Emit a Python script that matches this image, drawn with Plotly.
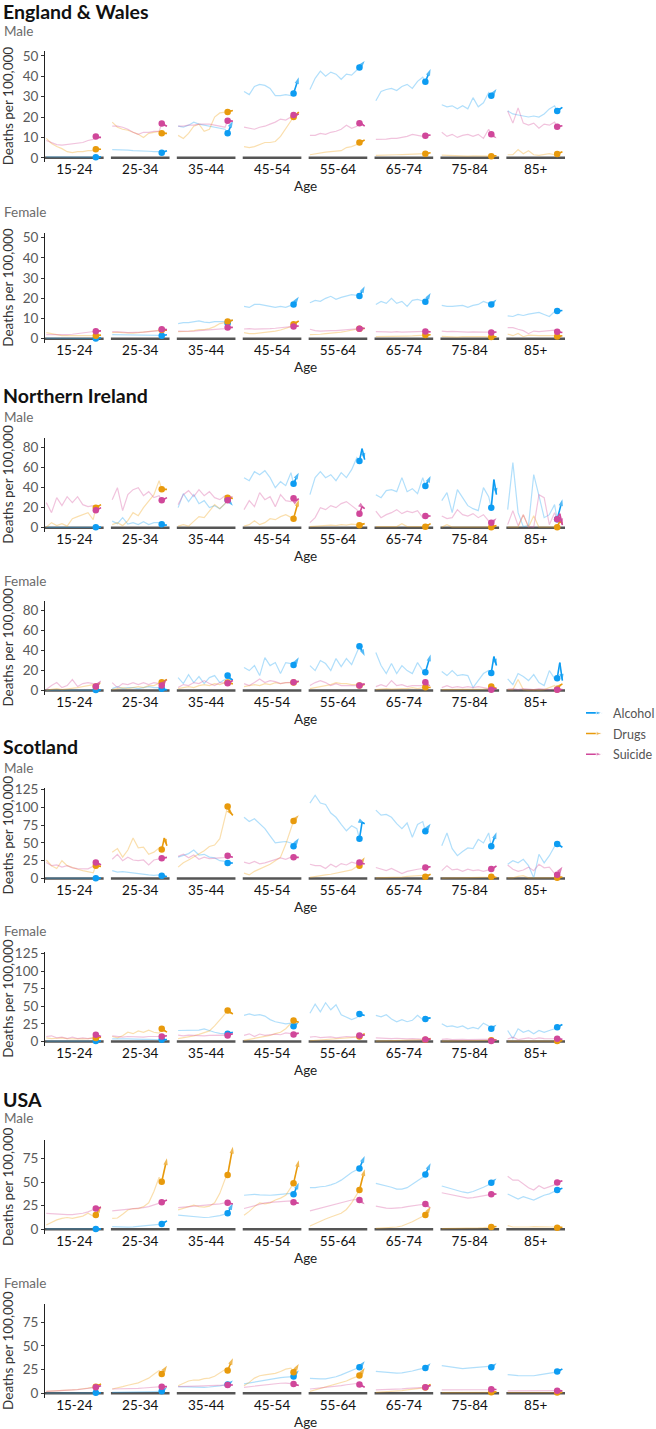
import plotly.graph_objects as go

AGES = ["15-24", "25-34", "35-44", "45-54", "55-64", "65-74", "75-84", "85+"]
YEARS = [2000, 2002, 2004, 2006, 2008, 2010, 2012, 2014, 2016, 2018, 2019, 2020, 2021]
CAUSES = ["Alcohol", "Drugs", "Suicide"]

# ---------------- England & Wales ----------------
EW_M_ALCOHOL = [
    [0.5, 0.5, 0.5, 0.5, 0.5, 0.5, 0.5, 0.5, 0.5, 0.5, 0.3, 0.4, 0.5],
    [4, 4, 4, 3.8, 3.5, 3.5, 3.5, 3.2, 3, 3, 2.5, 3, 3.5],
    [15.5, 15, 16, 17.5, 16.5, 16, 15.5, 15, 14.5, 14, 12, 15.5, 18],
    [32.5, 31, 35, 36, 35.5, 34, 30.5, 30.5, 31, 30.5, 31.5, 35.5, 39.5],
    [33.5, 39, 42.5, 40, 42, 41, 38.5, 41, 40.5, 43, 44.3, 46, 47.5],
    [28, 32.5, 33.5, 34, 33, 35, 36, 34, 37.5, 39.5, 37.3, 40.5, 43.5],
    [26, 25, 25.5, 24, 25.5, 24, 29.5, 25, 27, 32, 30.4, 32, 33.7],
    [23, 21.5, 21, 20.5, 20, 20.5, 20, 21.5, 24, 25.5, 23, 24, 24.7],
]
EW_M_DRUGS = [
    [9.5, 7, 5.5, 4.5, 3, 2.5, 3, 3, 3.5, 3.5, 4.2, 4.3, 4.2],
    [17.5, 15, 14, 13.5, 12.5, 11.5, 10, 12, 12.5, 13, 12, 12, 12],
    [11, 9.5, 12, 15.5, 16.5, 13, 14, 20, 22, 22.5, 22.5, 23, 23.2],
    [5.5, 5, 5.5, 6.5, 7.5, 7.5, 8, 10.5, 14.5, 18.5, 20, 21, 22.5],
    [1.5, 2, 2.5, 2.8, 3, 3.3, 3.5, 5, 5.5, 6.5, 7.5, 8, 8.7],
    [1.2, 1.2, 1.3, 1.5, 1.5, 1.6, 1.7, 1.8, 2, 2, 2, 2.3, 2.5],
    [1.3, 1.2, 1, 1, 0.8, 0.8, 1, 1, 0.9, 0.8, 0.8, 0.9, 1],
    [1.5, 1.5, 4, 2, 3.5, 1.5, 1.2, 1.5, 2, 1.5, 1.8, 2.5, 3],
]
EW_M_SUICIDE = [
    [8.5, 7.5, 6.5, 6.2, 6.5, 7, 7, 7.5, 8.5, 9, 10.5, 10, 10],
    [15.5, 15.5, 15, 14, 12.5, 11.5, 12.5, 12.5, 13, 13, 16.8, 16, 15.5],
    [15.5, 15.5, 16, 16, 16.5, 16.5, 16.5, 16, 15.5, 15, 18.2, 18, 18],
    [15, 14.5, 14, 15, 15.5, 16.5, 17.5, 19, 18.5, 20, 21, 21, 21.5],
    [11, 11, 12, 11.5, 12.5, 13, 14, 16, 14.5, 15.5, 17, 16.5, 15.5],
    [9, 9, 9.2, 9.5, 9.5, 10, 10.5, 11.5, 11, 10.5, 10.8, 11, 11.2],
    [12.5, 10.5, 11.5, 10, 11, 11.5, 10.5, 11.5, 9.5, 14, 11.6, 10.5, 9.6],
    [23, 17, 24.5, 17, 16, 17, 14.5, 16.5, 16, 17.5, 15.2, 15.5, 15.7],
]
EW_F_ALCOHOL = [
    [0.3, 0.3, 0.3, 0.3, 0.3, 0.3, 0.3, 0.3, 0.3, 0.3, 0.1, 0.3, 0.5],
    [2, 2, 2, 2, 2, 1.8, 1.8, 1.8, 1.7, 1.7, 1.5, 1.8, 2],
    [7.5, 8, 8, 8.5, 8.8, 8.2, 8, 8.5, 8.5, 8.5, 7.7, 8.5, 9.5],
    [16, 15.5, 17, 17, 16.5, 16, 15.5, 16, 15.5, 16.5, 17, 19, 20.8],
    [17.8, 19, 18.5, 20, 21, 19.5, 20.5, 21, 21.8, 21.5, 21.1, 23.5, 26],
    [17, 18.5, 17.5, 20, 17.5, 18.5, 16, 19, 19.5, 18.5, 18.3, 20.5, 22.7],
    [16.5, 16, 16, 16.3, 16.5, 15.5, 16.5, 17, 18.5, 17.5, 17, 18.2, 19.4],
    [11.3, 11, 12, 11.5, 12.2, 12.5, 13, 12, 11, 13.5, 13.7, 13.8, 14],
]
EW_F_DRUGS = [
    [3, 2.5, 2, 1.5, 1.5, 1.5, 1.5, 1.5, 1.5, 1.5, 1.5, 1.7, 1.8],
    [3, 3.2, 3, 2.8, 2.8, 3, 3.3, 3.5, 3.8, 4, 4.3, 4.3, 4.2],
    [3.5, 3.5, 3.7, 4, 4.5, 4.5, 5, 6, 7.5, 8, 8.5, 9, 9.2],
    [3, 2.5, 2.5, 2.8, 3, 3.3, 3.8, 4.3, 5, 6, 7.2, 8, 8.8],
    [2, 2, 2.2, 2.5, 2.7, 3, 3.3, 3.7, 4.2, 4.7, 5, 5, 5.1],
    [1, 1, 1.1, 1, 1.2, 1.2, 1.3, 1.4, 1.5, 1.6, 1.8, 1.9, 2],
    [1.2, 1, 1, 0.8, 1, 0.9, 1, 1, 1, 1, 0.9, 1, 1],
    [2.3, 1.5, 2.6, 1, 1.8, 1.5, 1.5, 1.5, 1.5, 1.5, 1.1, 1.3, 1.5],
]
EW_F_SUICIDE = [
    [2, 2, 2, 1.8, 2, 2.2, 2.5, 2.8, 3, 3.3, 3.7, 3.8, 3.9],
    [3.5, 3.5, 3.3, 3, 3, 3, 3.3, 3.5, 3.8, 4, 4.7, 4.6, 4.5],
    [3.8, 3.8, 3.6, 3.7, 4, 4.2, 4.3, 4.5, 4.8, 5, 5.5, 5.6, 5.6],
    [4.8, 5, 4.8, 4.8, 5, 5, 5.2, 5.5, 5.8, 6, 6.1, 6.2, 6.3],
    [4.7, 4, 3.8, 4, 4, 4, 4.2, 4.5, 4.8, 5, 5, 5.1, 5.2],
    [3.5, 3.3, 3.4, 3.3, 3.5, 3.3, 3.4, 3.3, 3.5, 3.4, 3.6, 3.5, 3.4],
    [3.8, 3.5, 3.6, 3.4, 3.5, 3.3, 3.4, 3.5, 3.3, 3.3, 3.1, 3.2, 3.3],
    [5.5, 5.5, 4.7, 4, 2.5, 3.8, 3.5, 3.8, 4, 4.2, 3.4, 3.2, 3.1],
]

# ---------------- Northern Ireland ----------------
NI_M_ALCOHOL = [
    [0.3, 0.3, 0.3, 0.3, 0.3, 0.3, 0.3, 0.3, 0.3, 0.3, 0.3, 0.4, 0.5],
    [6.5, 4, 10, 3.5, 5, 3, 6, 3, 5, 5, 3.3, 2.5, 2.7],
    [20, 34, 26, 33, 24, 27, 20, 22, 19, 24, 28, 25, 22],
    [50, 47, 56, 53, 57, 50, 40, 46, 42, 55, 44, 50, 55],
    [33, 50, 56, 50, 53, 47, 55, 50, 58, 70, 66.7, 79, 68],
    [33, 30, 37, 38, 36, 50, 36, 39, 34, 50, 41.7, 46, 51.7],
    [27, 35, 15, 38, 30, 22, 19, 17, 40, 31, 20, 48, 33],
    [18, 65, 15, 1, 2, 53, 32, 10, 13, 23, 8.3, 18, 28.3],
]
NI_M_DRUGS = [
    [0.5, 5, 2, 4, 1.5, 9, 11, 13, 15, 8, 20, 21.5, 23],
    [3, 5, 2, 7, 15, 12, 20, 27, 33, 47, 38.3, 38, 38.3],
    [1.5, 3, 1.5, 6, 11, 10, 17, 23, 19, 24, 30, 29.5, 29.3],
    [1.5, 3, 7, 3, 5, 9, 8, 11, 13, 10, 9, 19, 28],
    [1, 1.5, 1.5, 2, 2.5, 2, 3, 2.5, 3.5, 3, 2.5, 3.5, 4],
    [1, 1, 1, 1, 1, 4, 1, 1, 1, 1, 1, 2.5, 4],
    [0.5, 3, 0.5, 0.5, 0.5, 1, 0.5, 0.5, 0.5, 0.5, 0.5, 1.2, 2],
    [0.5, 0.5, 0.5, 13, 0.5, 12, 0.5, 0.5, 0.5, 0.5, 0.5, 6.5, 4],
]
NI_M_SUICIDE = [
    [25, 15, 30, 22, 31, 25, 31, 23, 21, 22, 17.3, 18.5, 20],
    [28, 40, 17, 33, 38, 40, 32, 36, 30, 32, 27.3, 28.5, 30],
    [23, 33, 37, 31, 38, 32, 36, 30, 28, 32, 27.3, 30, 31.7],
    [18, 27, 21, 35, 28, 31, 21, 33, 27, 26, 29.3, 27, 29],
    [5, 10, 20, 18, 22, 20, 24, 26, 22, 18, 14, 21, 19],
    [16.5, 10, 13, 15, 18, 14, 16.5, 15, 17, 10, 11.7, 11.5, 11.7],
    [11.7, 9, 10, 18, 13, 11.5, 14, 10, 13, 6.7, 5, 7, 9.3],
    [3, 17, 2, 13, 1, 0.5, 33, 30, 3, 15, 8.3, 14, 2.5],
]
NI_F_ALCOHOL = [
    [0.3, 0.3, 0.3, 0.3, 0.3, 0.3, 0.3, 0.3, 0.3, 0.3, 0.5, 0.5, 0.5],
    [2, 4, 2, 3, 3, 2, 3, 4, 3, 3, 1.7, 1, 0.7],
    [13, 7, 16, 8, 14, 7, 13, 15, 8, 11, 15, 12, 10.7],
    [23, 20, 25, 15, 33, 25, 28, 17, 28, 27, 25.7, 29, 33.3],
    [25, 20, 30, 27, 20, 32, 24, 32, 26, 38, 44.3, 40, 34.7],
    [38, 25, 17, 27, 17, 25, 20, 17, 28, 20, 18.3, 27, 36],
    [19, 15, 20, 15, 16, 15, 3, 10, 17, 20, 17.7, 34, 25],
    [11.7, 6, 17, 14, 10, 16, 8, 5, 20, 12, 12.3, 28, 10],
]
NI_F_DRUGS = [
    [0.5, 1, 2, 1, 1.5, 2, 3, 4, 5, 6, 4, 6, 8],
    [1, 2, 3, 2, 3, 4, 3, 5, 5, 7, 8.3, 9.5, 11],
    [2, 3, 4, 3, 5, 6, 5, 7, 6, 8, 8, 7.5, 6.7],
    [4, 5, 6, 5, 7, 6, 8, 7, 8, 8, 8, 8.5, 9],
    [2, 3, 4, 5, 6, 8, 7, 7, 6, 6, 5, 5.5, 6],
    [1, 1.5, 2, 1.5, 2, 2, 2, 3, 2, 3, 3.3, 3, 3],
    [1, 1, 1.5, 1, 1, 1.5, 1, 1, 1.5, 2, 4, 3, 2],
    [1, 1, 11, 1, 0.5, 1, 0.5, 1, 3, 5, 1, 5, 6.7],
]
NI_F_SUICIDE = [
    [1, 5, 8, 3, 5, 11, 4, 7, 8, 7, 4, 7, 10],
    [8, 3, 7, 6, 8, 6, 8, 6, 8, 7, 5, 8.5, 11.7],
    [3, 6, 5, 8, 7, 10, 7, 5, 8, 8, 7.3, 8.5, 10],
    [7, 5, 8, 11.5, 8, 10, 9, 7, 8, 8, 8.3, 8.8, 9.3],
    [5, 8, 10, 8, 5, 7, 5, 5, 5, 5, 5, 6, 6.7],
    [4, 6, 4, 10, 5, 6, 4, 5, 5, 5, 8.3, 6, 4],
    [3, 5, 3, 4, 3, 4, 3, 4, 3, 2, 0.7, 1.5, 2],
    [1.5, 2, 1, 2, 1.5, 1, 2, 1.5, 1, 1.5, 0.7, 1, 1],
]

# ---------------- Scotland ----------------
SC_M_ALCOHOL = [
    [0.5, 0.5, 0.5, 0.5, 0.5, 0.5, 0.5, 0.5, 0.5, 0.5, 0.5, 0.6, 0.8],
    [11, 9, 9.5, 8.5, 7.5, 6.5, 6, 5, 4.5, 5, 3.8, 3.3, 2.8],
    [30, 32, 35, 40, 33, 34, 30, 29, 25, 24, 21.7, 21.7, 21.7],
    [86, 80, 84, 77, 70, 60, 50, 51, 52, 50, 45.3, 51, 56.6],
    [106, 117, 106, 104, 92, 86, 76, 67, 74, 70, 55.7, 79, 77],
    [96, 89, 90, 86, 77, 70, 78, 58, 76, 80, 66.5, 72, 77],
    [46, 64, 42, 32, 38, 43, 42, 55, 50, 64, 45.3, 55, 65],
    [20, 25, 22, 27, 18, 1, 34, 22, 32, 45, 48.6, 46, 43.9],
]
SC_M_DRUGS = [
    [26, 18, 14, 25, 18, 15, 13, 11, 9, 8, 18, 17.5, 17],
    [37, 42, 30, 40, 57, 43, 44, 34, 37, 43, 40.6, 57, 46],
    [16, 22, 26, 30, 34, 39, 45, 47, 56, 85, 101, 93, 88.7],
    [7.5, 5, 10, 13, 17, 20, 25, 30, 48, 70, 80.7, 85, 88.7],
    [1.5, 3, 4, 5, 6, 7.5, 9, 10, 12, 17, 18, 24, 29.7],
    [1, 1, 1.5, 1.5, 2, 2, 3, 3.5, 4, 4.5, 2.4, 4, 6],
    [0.5, 1, 0.8, 1, 1, 1, 1.2, 1.5, 1.5, 2, 2.4, 2, 1.4],
    [1, 1, 3, 4, 1, 1, 1.5, 2, 1, 1, 1, 2, 2],
]
SC_M_SUICIDE = [
    [22.5, 18, 19, 16, 18, 15, 14, 14, 13.5, 17, 22.6, 21, 19.3],
    [27, 34, 25, 30, 26, 25, 26, 19, 26, 27, 28.3, 29, 29.7],
    [31, 34, 29, 33, 27, 30, 28, 29, 29, 29.5, 32, 31, 29.7],
    [23, 21, 24, 20.5, 22, 24, 26, 29, 27, 30, 29.7, 29.5, 29.7],
    [20, 18, 18, 14, 20, 16, 21, 19, 23, 21, 22.6, 21, 20.3],
    [15.5, 13, 11, 14, 10, 7, 10, 12, 13, 14, 15.6, 16, 16.5],
    [11, 18, 12, 13, 10, 13, 11, 12, 10, 12, 13.2, 15, 17.5],
    [19, 13, 10, 12, 16, 11, 20, 15, 16, 7, 5.2, 11, 16.5],
]
SC_F_ALCOHOL = [
    [0.5, 0.5, 0.5, 0.5, 0.5, 0.5, 0.5, 0.5, 0.5, 0.5, 0.5, 0.5, 0.6],
    [3.5, 4, 3.5, 3.5, 3, 3, 3, 3, 2.5, 2.5, 2.4, 2.4, 2.5],
    [15.5, 15.5, 15, 15.5, 16, 17.9, 15, 13, 11.5, 11, 10.8, 12, 13],
    [37, 39, 37, 38, 36, 31, 28, 26, 25, 26, 21.7, 24.5, 27.4],
    [40, 53, 42, 55, 45, 52, 38, 34, 31, 34, 39, 38, 36.8],
    [37, 35, 38, 32, 28, 31, 28, 30, 37, 31, 32, 33, 33.5],
    [25, 21, 22, 20, 22, 18, 20, 18, 26, 22, 17.9, 21, 23.6],
    [15.5, 4, 18, 13, 15.5, 10.8, 15.5, 13, 15.5, 17.9, 20.3, 22, 24],
]
SC_F_DRUGS = [
    [5, 4, 4.5, 5, 4, 3.5, 3, 3.5, 4, 4.5, 5, 5.5, 6],
    [7, 5, 8, 13, 11, 15, 13, 16, 13, 12, 17.9, 15.5, 13.2],
    [4, 5, 7, 8, 10, 13, 15, 22, 30, 39, 43.9, 41, 39],
    [1.5, 3, 4, 5, 7, 8.5, 11, 13, 18, 25, 29.7, 28.5, 27.4],
    [1, 1.5, 2, 2, 2.5, 3, 4, 5, 5.5, 6, 7, 9, 10.8],
    [0.5, 0.7, 1, 1, 1.2, 1.5, 1.5, 2, 2, 2.5, 2.5, 3.2, 4],
    [0.5, 0.5, 0.5, 0.5, 0.5, 1, 1, 1, 1, 1, 1.5, 1.8, 2],
    [0.5, 0.5, 1, 0.5, 1, 0.5, 1, 0.5, 1, 0.5, 0.5, 0.8, 1],
]
SC_F_SUICIDE = [
    [7, 8, 5, 6, 4, 6, 4, 5, 4, 5, 9.4, 8, 7],
    [8, 7, 6, 7, 6.5, 7, 6, 7, 6.5, 7, 7, 7.5, 8],
    [9, 8, 9, 8.5, 9, 8, 8.5, 9, 9, 9, 8.5, 10, 11],
    [8.5, 10.8, 7, 10.5, 8.5, 9, 10.5, 9.5, 12, 11, 10, 11, 11.8],
    [6, 7, 5.5, 6, 6.5, 5, 6, 7, 6.5, 7, 8.5, 8.8, 9],
    [5, 4.5, 4, 4, 4.5, 3.5, 3.5, 4, 3.5, 3.5, 2.8, 3, 3.3],
    [3, 3.5, 2.5, 3, 3, 2.5, 3, 2.5, 3, 3, 0.5, 1.5, 2],
    [3.5, 6, 2.5, 4, 5, 3.5, 5, 4, 3.5, 4, 3.8, 3.4, 3],
]

# ---------------- USA ----------------
US_M_ALCOHOL = [
    [0.5, 0.5, 0.5, 0.5, 0.5, 0.5, 0.5, 0.5, 0.5, 0.5, 0.5, 0.5, 0.5],
    [2.8, 2.5, 2.3, 2.3, 2.6, 3, 3.5, 4, 4.6, 5.2, 5.6, 7, 9],
    [15, 14.5, 14, 13, 12.7, 12.5, 12.8, 13.5, 14.5, 16, 16.9, 22, 27.5],
    [36, 36.5, 37, 36.5, 36, 36, 36.5, 37, 37.5, 38, 37, 43, 49.3],
    [44, 44, 45, 45.5, 47, 49, 52, 56, 60, 63, 64.4, 71, 77.4],
    [48.6, 47.5, 46, 44.5, 42.5, 42.5, 44, 47.5, 51.5, 55, 58, 64, 69.7],
    [45.8, 44, 42.5, 41, 39.5, 38.5, 40, 42, 44.5, 47, 49.3, 51.5, 53.8],
    [37.3, 35, 32, 34.5, 33, 31, 33.5, 36, 37.5, 40, 41.5, 42.5, 43.3],
]
US_M_DRUGS = [
    [4.5, 7, 10, 11.5, 12.5, 11.5, 12.5, 14, 17, 14, 15.1, 20, 24.6],
    [11.5, 12, 16, 20.5, 22, 22, 24, 28, 40, 55, 50.3, 62, 75],
    [20.5, 22, 24, 25.5, 24, 23.5, 24.5, 28, 38, 53, 57.4, 72, 87.3],
    [15, 19, 24, 28, 27, 28, 31, 33, 36, 45, 48.6, 61, 73],
    [3.5, 6, 9, 11, 13, 15, 17, 21, 28, 37, 41.5, 52, 63.4],
    [1, 1.2, 1.5, 2, 2.5, 3.5, 5.5, 8, 11, 13.5, 15.1, 19.5, 24],
    [0.8, 0.8, 0.9, 1, 1, 1.2, 1.3, 1.5, 1.8, 2, 2.5, 2.8, 3],
    [4, 2.5, 2.5, 2.3, 2.5, 2.8, 2.8, 2.8, 2.5, 2.5, 1.8, 2, 2.2],
]
US_M_SUICIDE = [
    [16.9, 16.5, 16, 15.5, 15.5, 15.5, 16, 17, 18.5, 21, 22, 22.5, 23.2],
    [19.5, 20, 20.5, 21.5, 22, 22.5, 23, 24, 25.5, 27, 28.5, 30, 31],
    [23, 23.5, 23.5, 24, 24.5, 25, 25.5, 26.5, 27, 28, 28.2, 27.5, 26.8],
    [22, 23.5, 25, 26.5, 28, 28.5, 29, 29.5, 30, 30, 28.5, 28, 27.5],
    [19.5, 21, 22.5, 24, 25.5, 27, 28.5, 30, 31, 31.5, 31, 28.5, 26.4],
    [24.6, 23.5, 22.5, 22.2, 22.5, 23, 24, 25, 26, 26.5, 26.8, 24.5, 22.2],
    [38.7, 37.5, 36.5, 35, 34, 33, 33.5, 34.5, 35.5, 36.5, 37, 37.2, 37.3],
    [56, 52, 52, 48, 44, 41.5, 46, 43, 45, 47, 49.6, 50.5, 51.4],
]
US_F_ALCOHOL = [
    [0.3, 0.3, 0.3, 0.3, 0.3, 0.3, 0.3, 0.3, 0.3, 0.3, 0.5, 0.5, 0.5],
    [1, 1, 1, 1, 1.2, 1.3, 1.5, 1.6, 1.8, 2, 2.1, 4, 6.3],
    [7, 6.8, 6.5, 6.3, 6.2, 6.3, 6.6, 7, 7.8, 8.8, 9.2, 11, 13.4],
    [10, 11, 12, 13, 14, 15, 15.8, 16.5, 17, 17.5, 17.6, 21, 24],
    [15.8, 15.3, 15.2, 15.3, 16, 17.5, 19.5, 22, 24.5, 26.5, 27.5, 30.5, 33.8],
    [23.2, 22.5, 22, 21.5, 21.2, 21.5, 22.2, 23.5, 25, 26, 26.8, 29, 31.7],
    [29.2, 28.5, 27.5, 26.5, 26, 26.5, 27, 27.5, 28, 28.5, 27.5, 29.5, 31.7],
    [19.7, 19, 18.7, 18.5, 18.7, 18.5, 19.5, 20.2, 21, 22, 22.9, 24.3, 25.7],
]
US_F_DRUGS = [
    [2, 2.2, 2.5, 3, 3.2, 3.5, 4, 4.5, 5.5, 6.5, 7, 8.5, 9.9],
    [4.5, 5.5, 7, 8.5, 10, 11, 13.5, 16, 20, 24, 20.4, 25, 29.2],
    [8, 10.5, 13, 14, 14, 15.5, 16, 18, 21.5, 25, 24, 30.5, 37],
    [8, 11.5, 16, 18.5, 19.5, 20, 21, 23, 25.5, 26.5, 22.2, 26.5, 31],
    [2, 3.5, 5, 6.5, 8, 9.5, 11, 13, 15.5, 18, 18.7, 22.5, 26.8],
    [1, 1.2, 1.5, 1.8, 2.2, 2.8, 3.5, 4.3, 5, 5.6, 6, 7.5, 9.2],
    [0.6, 0.6, 0.6, 0.7, 0.7, 0.8, 0.8, 0.9, 1, 1, 1, 1.2, 1.5],
    [0.8, 0.8, 0.8, 0.8, 0.8, 0.8, 0.8, 0.8, 0.8, 0.8, 0.8, 0.9, 1],
]
US_F_SUICIDE = [
    [2, 2.2, 2.5, 2.8, 3, 3.3, 3.8, 4.5, 5.2, 6, 6.3, 7, 8],
    [4.5, 4.5, 4.6, 4.8, 5, 5.2, 5.6, 6, 6.5, 6.8, 7, 7, 7],
    [7, 7, 7, 7.5, 7.5, 7.8, 8, 8, 8.3, 8.6, 8.8, 8.8, 8.8],
    [6.3, 7, 7.8, 8.5, 9.2, 9.8, 10.3, 10.6, 10.8, 10.6, 9.9, 9, 8.1],
    [4.5, 5, 5.5, 6, 6.5, 7.2, 8, 9, 10, 10.3, 9.2, 7.8, 6.3],
    [3.5, 3.6, 3.8, 4, 4.3, 4.7, 5.2, 5.7, 6.2, 6.6, 6.3, 7.2, 8.1],
    [3.5, 3.5, 3.4, 3.4, 3.3, 3.3, 3.4, 3.5, 3.6, 3.8, 4.2, 4.1, 4],
    [2.5, 2.5, 2.5, 2.5, 2.5, 2.5, 2.5, 2.5, 2.5, 2.5, 2.8, 2.6, 2.5],
]

COUNTRIES = ["England & Wales", "Northern Ireland", "Scotland", "USA"]
Y_TICKS = {
    "England & Wales": [0, 10, 20, 30, 40, 50],
    "Northern Ireland": [0, 20, 40, 60, 80],
    "Scotland": [0, 25, 50, 75, 100, 125],
    "USA": [0, 25, 50, 75],
}

# ---------------- styling / layout ----------------
W_PX, H_PX = 656, 1429
DARK = {"Alcohol": "#0d9cf2", "Drugs": "#e89a0c", "Suicide": "#d0479a"}
LIGHT = {"Alcohol": "rgba(40,165,245,0.36)", "Drugs": "rgba(240,165,30,0.36)",
         "Suicide": "rgba(215,90,160,0.36)"}
FONT = "Lato, 'Open Sans', sans-serif"

X0, PITCH, WIDTH = 1999.5, 25.29, 22.5
X_LEFT_PX, X_RIGHT_PX = 45, 565

# vertical calibration of the rendered page (screen px -> figure px)
V_OFF, V_SCALE = 6.14, 0.99272

# (country, sex, data, zero pixel, px per unit, ymin, ymax)
PANELS = [
    ("England & Wales", "Male", (EW_M_ALCOHOL, EW_M_DRUGS, EW_M_SUICIDE), 157, 2.04, -2, 52.5),
    ("England & Wales", "Female", (EW_F_ALCOHOL, EW_F_DRUGS, EW_F_SUICIDE), 338, 2.02, -2, 52.5),
    ("Northern Ireland", "Male", (NI_M_ALCOHOL, NI_M_DRUGS, NI_M_SUICIDE), 527, 1.0, -4, 90),
    ("Northern Ireland", "Female", (NI_F_ALCOHOL, NI_F_DRUGS, NI_F_SUICIDE), 690, 1.0, -4, 90),
    ("Scotland", "Male", (SC_M_ALCOHOL, SC_M_DRUGS, SC_M_SUICIDE), 878, 0.712, -6, 127),
    ("Scotland", "Female", (SC_F_ALCOHOL, SC_F_DRUGS, SC_F_SUICIDE), 1041, 0.704, -6, 127),
    ("USA", "Male", (US_M_ALCOHOL, US_M_DRUGS, US_M_SUICIDE), 1229, 0.947, -4.5, 94),
    ("USA", "Female", (US_F_ALCOHOL, US_F_DRUGS, US_F_SUICIDE), 1393, 0.947, -4.5, 94),
]
TITLE_PX = {"England & Wales": 11, "Northern Ireland": 395, "Scotland": 746, "USA": 1099}
SEX_PX = [30, 211, 416, 580, 767, 931, 1118, 1283]


def py(px):
    fig_px = (px - V_OFF) / V_SCALE
    return 1 - fig_px / H_PX


def xpos(k, year):
    return k * PITCH + (year - X0)


fig = go.Figure()
layout = dict(
    width=W_PX, height=H_PX, margin=dict(l=0, r=0, t=0, b=0),
    paper_bgcolor="white", plot_bgcolor="white", showlegend=False,
    font=dict(family=FONT, size=13, color="#333333"),
)
annotations = []
shapes = []
x_max = 7 * PITCH + WIDTH
centers = [k * PITCH + WIDTH / 2 for k in range(8)]

for i, (country, sex, data, zero_px, scale, ylo, yhi) in enumerate(PANELS):
    n = i + 1
    xa, ya = f"x{n}", f"y{n}"
    top_px = zero_px - yhi * scale
    bot_px = zero_px - ylo * scale
    layout[f"xaxis{n}"] = dict(
        domain=[X_LEFT_PX / W_PX, X_RIGHT_PX / W_PX], range=[0, x_max], anchor=ya,
        showgrid=False, zeroline=False, showline=False, ticks="",
        tickvals=centers, ticktext=AGES, ticklabelstandoff=-2,
        tickfont=dict(family=FONT, size=13.5, color="#111111"), fixedrange=True,
    )
    layout[f"yaxis{n}"] = dict(
        domain=[py(bot_px), py(top_px)], range=[ylo, yhi], anchor=xa,
        showgrid=False, zeroline=False, showline=True, linecolor="#222222", linewidth=1,
        ticks="outside", ticklen=3, tickcolor="#333333", tickwidth=1,
        tickvals=Y_TICKS[country], tickfont=dict(family=FONT, size=13.5, color="#5a5a5a"),
        fixedrange=True,
    )
    # baselines under each age facet
    for k in range(8):
        shapes.append(dict(type="line", xref=xa, yref=ya, x0=k * PITCH, x1=k * PITCH + WIDTH,
                           y0=0, y1=0, layer="below", line=dict(color="#555555", width=2.5)))
    # light history lines
    for cause, series in zip(CAUSES, data):
        xs, ys = [], []
        for k, vals in enumerate(series):
            xs += [xpos(k, yr) for yr in YEARS[:11]] + [None]
            ys += list(vals[:11]) + [None]
        fig.add_trace(go.Scatter(x=xs, y=ys, xaxis=xa, yaxis=ya, mode="lines",
                                 line=dict(color=LIGHT[cause], width=1.2),
                                 hoverinfo="skip", showlegend=False))
    # dark recent segments ending in an arrow
    for cause, series in zip(CAUSES, data):
        xs, ys, sym, size = [], [], [], []
        for k, vals in enumerate(series):
            xs += [xpos(k, yr) for yr in YEARS[10:]] + [None]
            ys += list(vals[10:]) + [None]
            sym += ["circle", "circle", "arrow", "circle"]
            size += [0, 0, 7, 0]
        fig.add_trace(go.Scatter(x=xs, y=ys, xaxis=xa, yaxis=ya, mode="lines+markers",
                                 line=dict(color=DARK[cause], width=1.6),
                                 marker=dict(color=DARK[cause], symbol=sym, size=size,
                                             angleref="previous", line=dict(width=0)),
                                 cliponaxis=False, hoverinfo="skip", showlegend=False))
        # the dot at the start of the recent segment
        fig.add_trace(go.Scatter(x=[xpos(k, YEARS[10]) for k in range(8)],
                                 y=[vals[10] for vals in series], xaxis=xa, yaxis=ya,
                                 mode="markers",
                                 marker=dict(color=DARK[cause], size=6.5, line=dict(width=0)),
                                 cliponaxis=False, hoverinfo="skip", showlegend=False))
    # y title
    annotations.append(dict(text="Deaths per 100,000", xref="paper", yref="paper",
                            x=8 / W_PX, y=py((top_px + bot_px) / 2), textangle=-90,
                            showarrow=False, xanchor="center", yanchor="middle",
                            font=dict(family=FONT, size=13.5, color="#333333")))
    # x title
    annotations.append(dict(text="Age", xref="paper", yref="paper", x=305 / W_PX,
                            y=py(zero_px + 28.5), showarrow=False, xanchor="center",
                            yanchor="middle", font=dict(family=FONT, size=13.5, color="#222222")))
    # sex subtitle
    annotations.append(dict(text=sex, xref="paper", yref="paper", x=2 / W_PX, y=py(SEX_PX[i]),
                            showarrow=False, xanchor="left", yanchor="middle",
                            font=dict(family=FONT, size=13.5, color="#6b6b6b")))

for country in COUNTRIES:
    annotations.append(dict(text=f"<b>{country}</b>", xref="paper", yref="paper", x=1 / W_PX,
                            y=py(TITLE_PX[country]), showarrow=False, xanchor="left",
                            yanchor="middle", font=dict(family=FONT, size=19.5, color="#111111")))

# legend on its own small axis
LEG_ROWS = [2.5, 1.5, 0.5]
layout["xaxis9"] = dict(domain=[586 / W_PX, 606 / W_PX], range=[0, 1], visible=False,
                        anchor="y9", fixedrange=True)
layout["yaxis9"] = dict(domain=[py(764), py(702)], range=[0, 3], visible=False,
                        anchor="x9", fixedrange=True)
for cause, row, row_px in zip(CAUSES, LEG_ROWS, [713, 733.5, 754]):
    fig.add_trace(go.Scatter(x=[0, 0.82], y=[row, row], xaxis="x9", yaxis="y9",
                             mode="lines+markers", line=dict(color=DARK[cause], width=1.6),
                             marker=dict(color=DARK[cause], symbol=["circle", "arrow"],
                                         size=[0, 6.5], angleref="previous"),
                             cliponaxis=False, hoverinfo="skip", showlegend=False))
    annotations.append(dict(text=cause, xref="paper", yref="paper", x=611 / W_PX, y=py(row_px),
                            showarrow=False, xanchor="left", yanchor="middle",
                            font=dict(family=FONT, size=12.5, color="#555555")))

layout["annotations"] = annotations
layout["shapes"] = shapes
fig.update_layout(**layout)
fig.write_html("out.html", config={"displayModeBar": False},
               post_script="document.body.style.margin='0px';")
